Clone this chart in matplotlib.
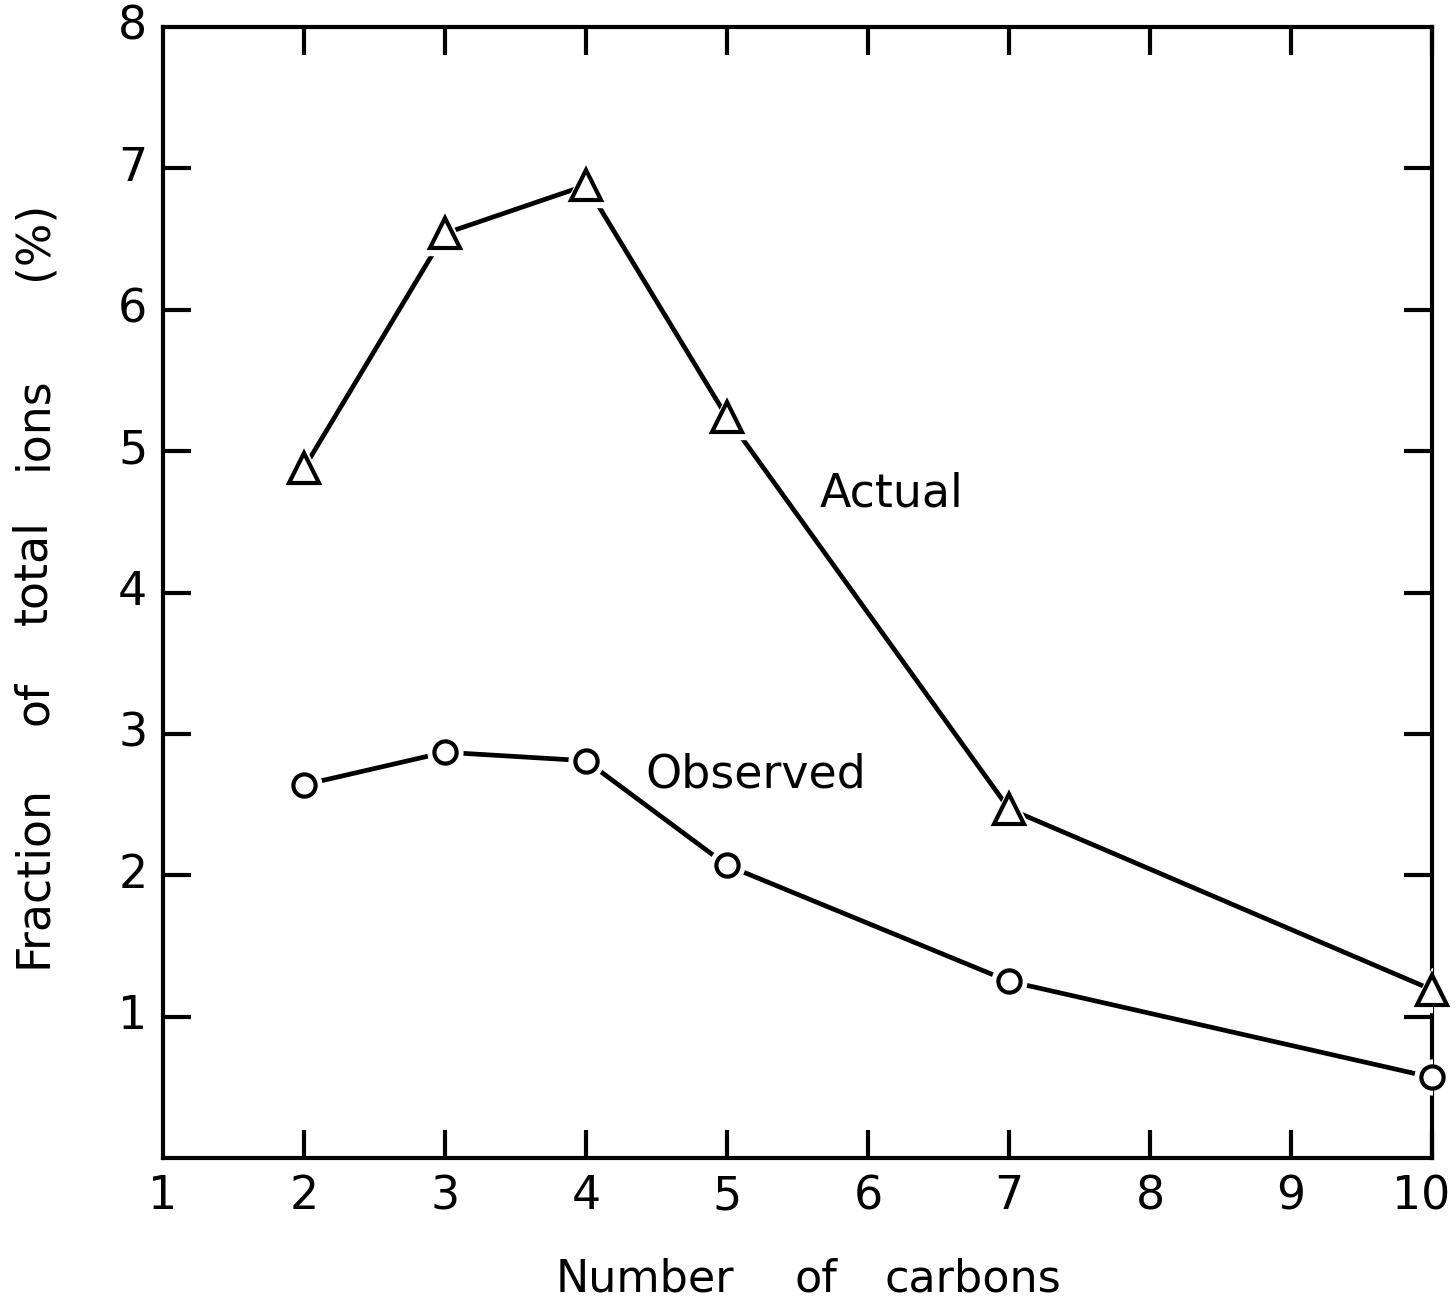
import matplotlib
matplotlib.use("Agg")
import matplotlib.pyplot as plt

# number of carbons and fraction of total ions (%)
carbons = [2, 3, 4, 5, 7, 10]
actual = [4.88, 6.54, 6.88, 5.24, 2.47, 1.19]
observed = [2.64, 2.87, 2.81, 2.07, 1.25, 0.57]

x_ticks = [2, 3, 4, 5, 6, 7, 8, 9, 10]
x_ticklabels = ["1", "2", "3", "4", "5", "6", "7", "8", "9", "10"]
y_ticks = [1, 2, 3, 4, 5, 6, 7]
y_ticklabels = ["1", "2", "3", "4", "5", "6", "7", "8"]

# axis titles, one word at a time (the original is hand lettered, widely spaced)
xlabel_words = ["Number", "of", "carbons"]
ylabel_words = ["Fraction", "of", "total", "ions", "(%)"]

W, H = 1455, 1302
plt.rcParams["font.family"] = "DejaVu Sans"

fig = plt.figure(figsize=(W / 100, H / 100), dpi=100)
ax = fig.add_axes([163 / W, 1 - 1158 / H, (1432 - 163) / W, (1158 - 27) / H])


def draw_series(y, marker, size):
    ax.plot(carbons, y, color="black", lw=3.4, zorder=2)
    # white halo so lines stop short of the markers
    ax.plot(carbons, y, ls="none", marker=marker, ms=size + 9,
            mfc="white", mec="white", zorder=3)
    ax.plot(carbons, y, ls="none", marker=marker, ms=size,
            mfc="white", mec="black", mew=3.0, zorder=4, clip_on=False)


draw_series(actual, "^", 22)
draw_series(observed, "o", 16)

ax.set_xlim(1, 10)
ax.set_ylim(0, 8)

ax.set_xticks(x_ticks)
ax.set_xticklabels([])
ax.set_yticks(y_ticks)
ax.set_yticklabels([])
ax.tick_params(direction="in", length=20, width=3, top=True, right=True)

for lbl, xv in zip(x_ticklabels, range(1, 11)):
    if lbl == "10":
        fig.text(1450 / W, 1 - 1197 / H, lbl, ha="right", va="center", fontsize=33)
    else:
        ax.text(xv, -0.275, lbl, ha="center", va="center", fontsize=33)
for lbl, yv in zip(y_ticklabels, range(1, 9)):
    ax.text(0.89, yv, lbl, ha="right", va="center", fontsize=33)

for sp in ax.spines.values():
    sp.set_linewidth(3)

ax.text(5.66, 4.70, "Actual", ha="left", va="center", fontsize=33)
ax.text(4.42, 2.71, "Observed", ha="left", va="center", fontsize=33)

for word, xc in zip(xlabel_words, [645, 816, 973]):
    fig.text(xc / W, 1 - 1279 / H, word, ha="center", va="center", fontsize=32)
for word, yc in zip(ylabel_words, [877, 703, 573, 423, 240]):
    fig.text(34 / W, 1 - yc / H, word, ha="center", va="center",
             rotation=90, fontsize=33)

fig.savefig("out.png", dpi=100, facecolor="white")
